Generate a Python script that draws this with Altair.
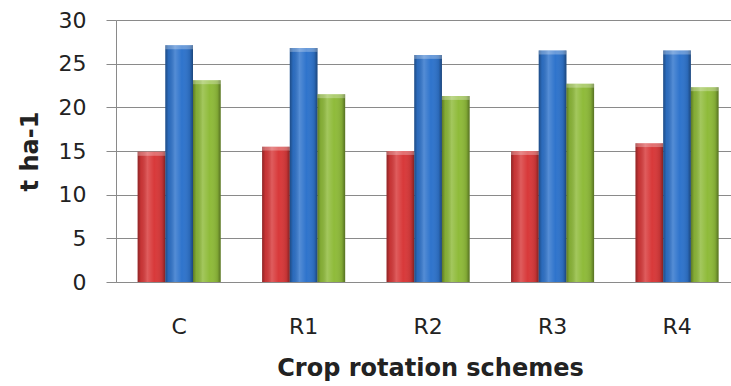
import altair as alt
import pandas as pd

schemes = ["C", "R1", "R2", "R3", "R4"]
series_names = ["S1", "S2", "S3"]
red_vals = [14.9, 15.5, 15.0, 15.0, 15.9]
blue_vals = [27.1, 26.8, 26.0, 26.5, 26.5]
green_vals = [23.1, 21.5, 21.3, 22.7, 22.3]
y_ticks = [0, 5, 10, 15, 20, 25, 30]

rows = []
for vals, s in zip([red_vals, blue_vals, green_vals], series_names):
    for sc, v in zip(schemes, vals):
        rows.append({"scheme": sc, "series": s, "value": v})
df = pd.DataFrame(rows)

FONT = "DejaVu Sans"
GRID = "#8a8a8a"

x_enc = alt.X(
    "scheme:N",
    sort=schemes,
    scale=alt.Scale(paddingInner=0.333, paddingOuter=0.137, align=0.635),
    axis=alt.Axis(
        title="Crop rotation schemes",
        labelAngle=0,
        labelFontSize=22,
        labelFont=FONT,
        labelColor="#222222",
        labelPadding=34,
        ticks=False,
        tickSize=0,
        domainColor=GRID,
        titleFont=FONT,
        titleFontSize=24,
        titleFontWeight="bold",
        titleColor="#222222",
        titleX=314,
        titleY=93,
        titleAlign="center",
        titleBaseline="alphabetic",
    ),
)
xoff_enc = alt.XOffset("series:N", sort=series_names, scale=alt.Scale(domain=series_names))
y_enc = alt.Y(
    "value:Q",
    scale=alt.Scale(domain=[0, 30], nice=False),
    axis=alt.Axis(
        title="t ha-1",
        values=y_ticks,
        grid=True,
        gridColor=GRID,
        gridWidth=1,
        domainColor=GRID,
        tickColor=GRID,
        tickSize=10,
        labelFontSize=22,
        labelFont=FONT,
        labelColor="#222222",
        labelPadding=20,
        titleFont=FONT,
        titleFontSize=24,
        titleFontWeight="bold",
        titleColor="#222222",
        titleAngle=270,
        titleX=-79,
        titleY=131,
        titleAlign="center",
        titleBaseline="alphabetic",
    ),
)

base = alt.Chart(df).encode(x=x_enc, xOffset=xoff_enc, y=y_enc)

bars = base.mark_bar().encode(
    color=alt.Color(
        "series:N",
        scale=alt.Scale(domain=series_names, range=["#d8393a", "#2f74cc", "#8fbb3a"]),
        legend=None,
    )
)

shade = base.mark_bar(
    color=alt.Gradient(
        gradient="linear",
        x1=0, x2=1, y1=0, y2=0,
        stops=[
            alt.GradientStop(offset=0, color="rgba(0,0,0,0.35)"),
            alt.GradientStop(offset=0.12, color="rgba(0,0,0,0.08)"),
            alt.GradientStop(offset=0.35, color="rgba(255,255,255,0.18)"),
            alt.GradientStop(offset=0.6, color="rgba(255,255,255,0.0)"),
            alt.GradientStop(offset=0.88, color="rgba(0,0,0,0.1)"),
            alt.GradientStop(offset=1, color="rgba(0,0,0,0.4)"),
        ],
    )
)

cap = (
    alt.Chart(df)
    .transform_calculate(cap_low="datum.value - 0.45")
    .mark_bar(color="white", opacity=0.28)
    .encode(x=x_enc, xOffset=xoff_enc, y=y_enc, y2="cap_low:Q")
)

chart = (
    alt.layer(bars, shade, cap)
    .properties(width=615, height=262, autosize="none",
                padding={"left": 116, "top": 20, "right": 0, "bottom": 104})
    .configure_view(stroke=None)
    .configure(background="white")
)

chart.save("out.html", embed_options={"renderer": "svg", "actions": False})
